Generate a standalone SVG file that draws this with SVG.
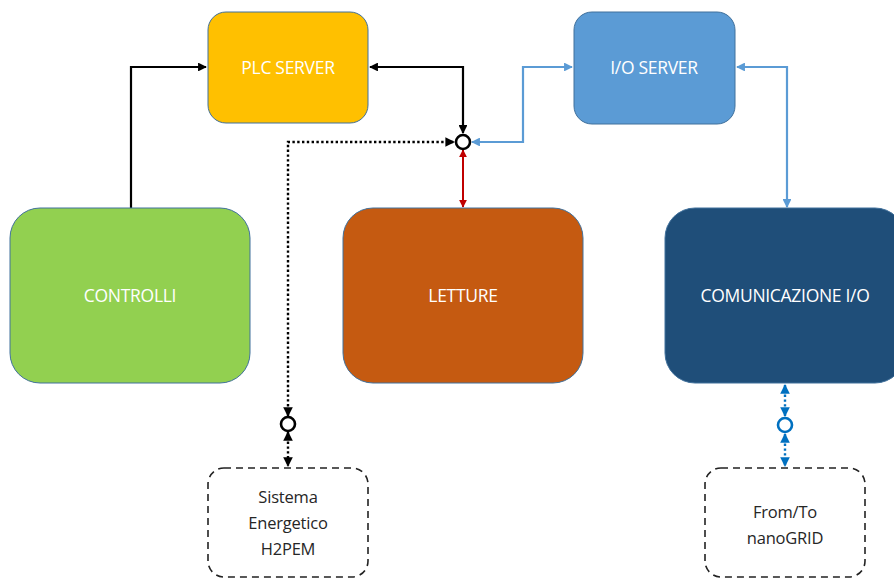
<svg xmlns="http://www.w3.org/2000/svg" width="894" height="578" viewBox="0 0 894 578">
<style>
.box{stroke:#41719C;stroke-width:1}
.lbl{font-family:"Open Sans","Liberation Sans",sans-serif;font-size:17.5px;fill:#fff;text-anchor:middle;letter-spacing:-0.3px}
.dlbl{font-family:"Open Sans","Liberation Sans",sans-serif;font-size:16.5px;fill:#262626;text-anchor:middle;letter-spacing:-0.2px}
.dash{fill:#fff;stroke:#222;stroke-width:1.6;stroke-dasharray:7,5}
.blk{fill:none;stroke:#000;stroke-width:2.2}
.dot{fill:none;stroke:#000;stroke-width:2.4;stroke-dasharray:2.4,2.4}
.red{fill:none;stroke:#C00000;stroke-width:2}
.blu{fill:none;stroke:#5B9BD5;stroke-width:2.2}
.bdot{fill:none;stroke:#0070C0;stroke-width:2.4;stroke-dasharray:2.4,2.4}
</style>
<defs>
<marker id="ak" viewBox="0 0 10 10" refX="9" refY="5" markerWidth="4" markerHeight="4" orient="auto-start-reverse" markerUnits="strokeWidth"><path d="M0,0L10,5L0,10z" fill="#000"/></marker>
<marker id="ar" viewBox="0 0 10 10" refX="9" refY="5" markerWidth="4" markerHeight="4" orient="auto-start-reverse" markerUnits="strokeWidth"><path d="M0,0L10,5L0,10z" fill="#C00000"/></marker>
<marker id="ab" viewBox="0 0 10 10" refX="9" refY="5" markerWidth="4" markerHeight="4" orient="auto-start-reverse" markerUnits="strokeWidth"><path d="M0,0L10,5L0,10z" fill="#5B9BD5"/></marker>
<marker id="ad" viewBox="0 0 10 10" refX="9" refY="5" markerWidth="4" markerHeight="4" orient="auto-start-reverse" markerUnits="strokeWidth"><path d="M0,0L10,5L0,10z" fill="#0070C0"/></marker>
</defs>
<g id="connectors">
<path class="blk" d="M131,208V67H206" marker-end="url(#ak)"/>
<path class="blk" d="M370,67H463V133" marker-start="url(#ak)" marker-end="url(#ak)"/>
<path class="dot" d="M288,416V142H454" marker-start="url(#ak)" marker-end="url(#ak)"/>
<path class="dot" d="M288,432V466" marker-start="url(#ak)" marker-end="url(#ak)"/>
<path class="red" d="M463,150V207" marker-start="url(#ar)" marker-end="url(#ar)"/>
<path class="blu" d="M472,142H523V67H572" marker-start="url(#ab)" marker-end="url(#ab)"/>
<path class="blu" d="M737,67H787V207" marker-start="url(#ab)" marker-end="url(#ab)"/>
<path class="bdot" d="M785,385V416" marker-start="url(#ad)" marker-end="url(#ad)"/>
<path class="bdot" d="M785,434V466" marker-start="url(#ad)" marker-end="url(#ad)"/>
<circle cx="463" cy="142" r="7" fill="#fff" stroke="#000" stroke-width="2.6"/>
<circle cx="288" cy="424" r="7" fill="#fff" stroke="#000" stroke-width="2.6"/>
<circle cx="785" cy="425" r="7" fill="#fff" stroke="#0070C0" stroke-width="2.6"/>
</g>
<g id="plc"><rect class="box" x="208" y="12" width="160" height="111" rx="18" fill="#FFC000"/><text class="lbl" x="288" y="74">PLC SERVER</text></g>
<g id="io"><rect class="box" x="574" y="12" width="161" height="112" rx="18" fill="#5B9BD5"/><text class="lbl" x="654" y="74">I/O SERVER</text></g>
<g id="controlli"><rect class="box" x="10" y="208" width="240" height="175" rx="30" fill="#92D050"/><text class="lbl" x="130" y="302">CONTROLLI</text></g>
<g id="letture"><rect class="box" x="343" y="208" width="240" height="175" rx="30" fill="#C55A11"/><text class="lbl" x="463" y="302">LETTURE</text></g>
<g id="comunicazione"><rect class="box" x="665" y="208" width="240" height="175" rx="30" fill="#1F4E79"/><text class="lbl" x="785" y="302">COMUNICAZIONE I/O</text></g>
<g id="sistema"><rect class="dash" x="208" y="468" width="160" height="109" rx="16"/><text class="dlbl" x="288" y="503">Sistema</text><text class="dlbl" x="288" y="529">Energetico</text><text class="dlbl" x="288" y="555">H2PEM</text></g>
<g id="nanogrid"><rect class="dash" x="705" y="468" width="160" height="109" rx="16"/><text class="dlbl" x="785" y="518">From/To</text><text class="dlbl" x="785" y="544">nanoGRID</text></g>
</svg>
